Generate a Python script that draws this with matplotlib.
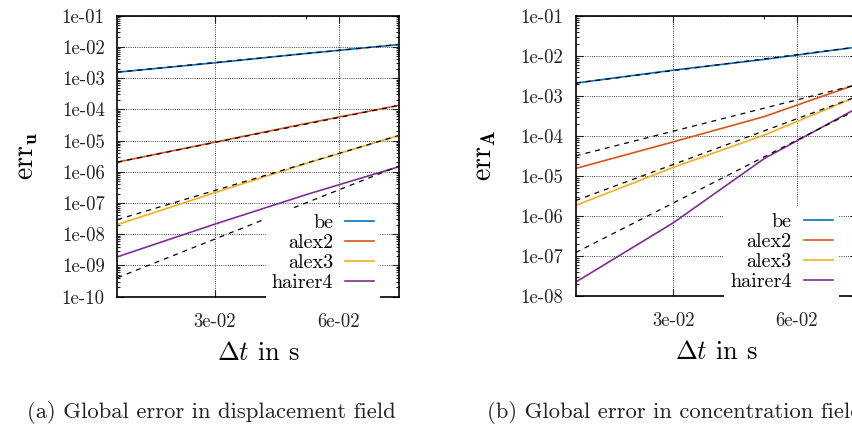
import numpy as np
import matplotlib.pyplot as plt
from matplotlib.ticker import LogLocator, NullFormatter

plt.rcParams['font.family'] = 'cmr10'
plt.rcParams['mathtext.fontset'] = 'cm'
plt.rcParams['axes.unicode_minus'] = False

# time steps (Delta t in s)
dt = [0.0174, 0.03, 0.05, 0.084]
dt_ref = [0.0174, 0.084]

methods = ['be', 'alex2', 'alex3', 'hairer4']
colors = ['#0072bd', '#d95319', '#edb120', '#7e2f8e']

# (a) error in displacement field
be_u = [1.55e-3, 3.09e-3, 6.17e-3, 1.19e-2]
alex2_u = [2.04e-6, 8.87e-6, 3.52e-5, 1.34e-4]
alex3_u = [2.04e-8, 2.14e-7, 1.85e-6, 1.45e-5]
hairer4_u = [1.89e-9, 2.1e-8, 1.85e-7, 1.45e-6]
# dashed reference slopes (left end, right end)
ref_be_u = [1.55e-3, 1.19e-2]
ref_alex2_u = [2.04e-6, 1.34e-4]
ref_alex3_u = [2.94e-8, 1.45e-5]
ref_hairer4_u = [4.05e-10, 1.52e-6]

# (b) error in concentration field
be_A = [2.07e-3, 4.35e-3, 8.1e-3, 1.65e-2]
alex2_A = [1.52e-5, 7.0e-5, 3.02e-4, 1.95e-3]
alex3_A = [1.81e-6, 1.61e-5, 1.04e-4, 9.55e-4]
hairer4_A = [2.19e-8, 6.6e-7, 2.7e-5, 4.9e-4]
ref_be_A = [2.07e-3, 1.65e-2]
ref_alex2_A = [3.14e-5, 1.89e-3]
ref_alex3_A = [2.4e-6, 9.55e-4]
ref_hairer4_A = [1.2e-7, 4.5e-4]

yticks_u = [1e-1, 1e-2, 1e-3, 1e-4, 1e-5, 1e-6, 1e-7, 1e-8, 1e-9, 1e-10]
yticks_A = [1e-1, 1e-2, 1e-3, 1e-4, 1e-5, 1e-6, 1e-7, 1e-8]
xticks = [0.03, 0.06]
xtick_labels = ['3e-02', '6e-02']


def panel(ax, series, refs, yticks, ylabel):
    ax.set_xscale('log')
    ax.set_yscale('log')
    for name, vals, c in zip(methods, series, colors):
        ax.plot(dt, vals, color=c, lw=1.2, label=name)
    for r in refs:
        ax.plot(dt_ref, r, color='black', lw=0.9, ls=(0, (4, 4)))
    ax.set_xlim(dt_ref[0], dt_ref[1])
    ax.set_ylim(yticks[-1], yticks[0])
    ax.set_xticks(xticks, labels=xtick_labels)
    ax.set_xticks([0.05], minor=True)
    ax.xaxis.set_minor_formatter(NullFormatter())
    ax.set_yticks(yticks, labels=['%.0e' % v for v in yticks])
    ax.yaxis.set_minor_locator(LogLocator(base=10, subs=np.arange(2, 10), numticks=100))
    ax.yaxis.set_minor_formatter(NullFormatter())
    ax.tick_params(which='both', direction='in', top=True, right=True,
                   labelsize=13.5, colors='#222222', width=0.8)
    ax.tick_params(which='major', length=5, pad=9)
    ax.tick_params(axis='x', which='major', pad=12)
    ax.tick_params(which='minor', length=2.5)
    ax.grid(True, which='major', ls=':', color='black', lw=0.6)
    ax.set_axisbelow(True)
    for s in ax.spines.values():
        s.set_linewidth(1.2)
    ax.set_xlabel(r'$\mathit{\Delta t}$ in s', fontsize=19)
    ax.xaxis.set_label_coords(0.5, -0.16)
    ax.set_ylabel(ylabel, fontsize=20)
    ax.yaxis.set_label_coords(-0.275, 0.5)
    ax.legend(loc='lower right', bbox_to_anchor=(0.935, -0.005), markerfirst=False,
              frameon=True, fancybox=False, edgecolor='none', facecolor='white',
              framealpha=1, fontsize=14.5, handlelength=1.45, handletextpad=0.6,
              labelspacing=0.1, borderaxespad=0.0, borderpad=0.3)


fig = plt.figure(figsize=(8.52, 4.33), dpi=100)
ax1 = fig.add_axes([0.1377, 0.3148, 0.3303, 0.649])
ax2 = fig.add_axes([0.6757, 0.317, 0.3303, 0.6467])

panel(ax1, [be_u, alex2_u, alex3_u, hairer4_u],
      [ref_be_u, ref_alex2_u, ref_alex3_u, ref_hairer4_u],
      yticks_u, r'$\mathrm{err}_{\mathbf{u}}$')
panel(ax2, [be_A, alex2_A, alex3_A, hairer4_A],
      [ref_be_A, ref_alex2_A, ref_alex3_A, ref_hairer4_A],
      yticks_A, r'$\mathrm{err}_{\mathbf{A}}$')

fig.text(27 / 852, 1 - 412 / 433, '(a) Global error in displacement field',
         fontsize=16.3, va='center', color='#222222')
fig.text(487 / 852, 1 - 412 / 433, '(b) Global error in concentration field',
         fontsize=16.3, va='center', color='#222222')

fig.savefig('out.png', dpi=100)
